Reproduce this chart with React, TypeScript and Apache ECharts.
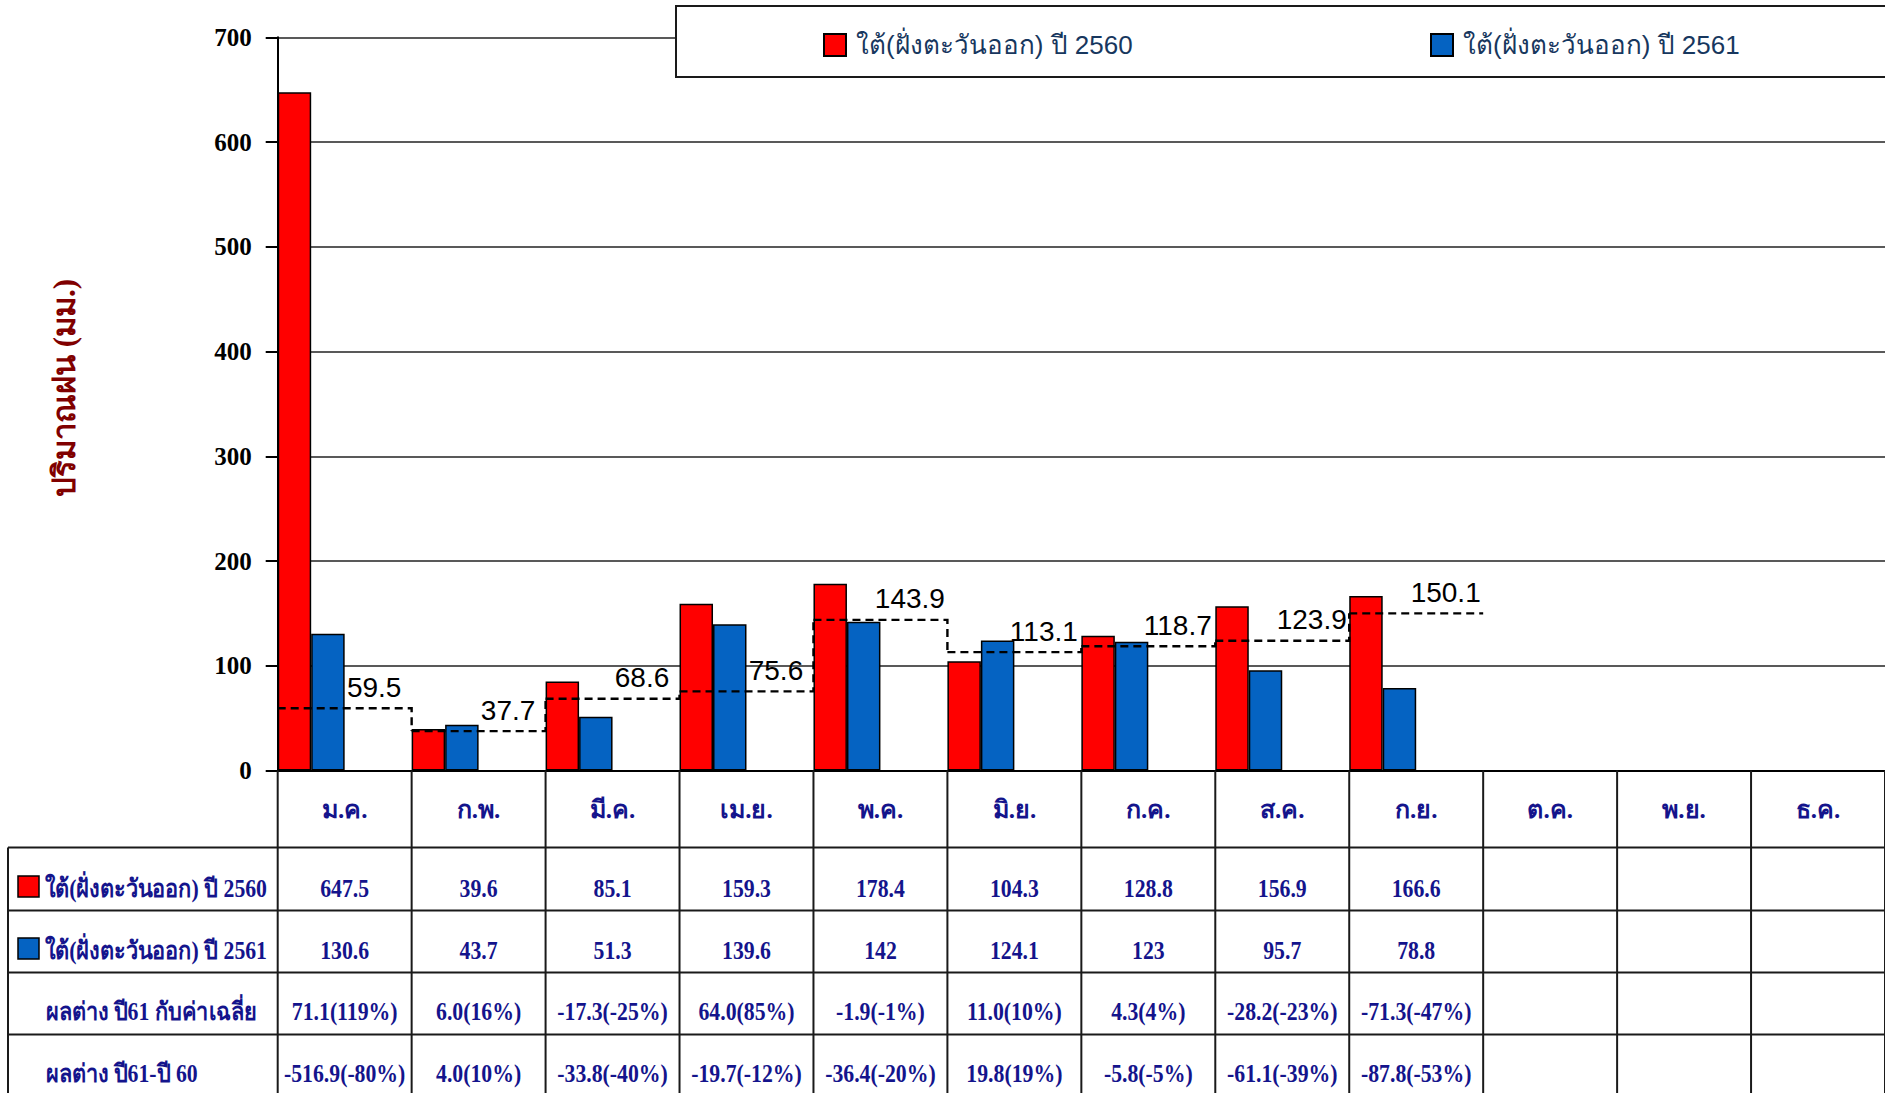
import React, { useEffect, useRef } from 'react';
import * as echarts from 'echarts';

const months = ['ม.ค.', 'ก.พ.', 'มี.ค.', 'เม.ย.', 'พ.ค.', 'มิ.ย.', 'ก.ค.', 'ส.ค.', 'ก.ย.', 'ต.ค.', 'พ.ย.', 'ธ.ค.'];
const seriesNames = ['ใต้(ฝั่งตะวันออก) ปี 2560', 'ใต้(ฝั่งตะวันออก) ปี 2561'];
const rain2560 = [647.5, 39.6, 85.1, 159.3, 178.4, 104.3, 128.8, 156.9, 166.6];
const rain2561 = [130.6, 43.7, 51.3, 139.6, 142, 124.1, 123, 95.7, 78.8];
const averageValues = [59.5, 37.7, 68.6, 75.6, 143.9, 113.1, 118.7, 123.9, 150.1];
const diffAverageLabels = ['71.1(119%)', '6.0(16%)', '-17.3(-25%)', '64.0(85%)', '-1.9(-1%)', '11.0(10%)', '4.3(4%)', '-28.2(-23%)', '-71.3(-47%)'];
const diffYearLabels = ['-516.9(-80%)', '4.0(10%)', '-33.8(-40%)', '-19.7(-12%)', '-36.4(-20%)', '19.8(19%)', '-5.8(-5%)', '-61.1(-39%)', '-87.8(-53%)'];
const rowLabels = ['ใต้(ฝั่งตะวันออก) ปี 2560', 'ใต้(ฝั่งตะวันออก) ปี 2561', 'ผลต่าง ปี61 กับค่าเฉลี่ย', 'ผลต่าง ปี61-ปี 60'];
const yAxisName = 'ปริมาณฝน (มม.)';

const RED = '#FF0000';
const BLUE = '#0563C2';
const NAVY = '#14148C';
const LINE = '#1a1a1a';
const SERIF = '"Liberation Serif", "Times New Roman", serif';

export default function App() {
  const ref = useRef<HTMLDivElement>(null);
  useEffect(() => {
    const el = ref.current!;
    const chart = echarts.init(el, null, { renderer: 'svg', width: 1885, height: 1093 });
    const placeholder = months.map(() => '-');
    chart.setOption({
      animation: false,
      backgroundColor: '#fff',
      grid: { left: 277.7, right: 0, top: 37.3, bottom: 322.4, containLabel: false, outerBoundsMode: 'none' },
      legend: [
        {
          data: [seriesNames[0]], left: 823, top: 32, padding: 0, itemWidth: 22, itemHeight: 22, icon: 'rect', z: 6,
          textStyle: { color: '#17375E', fontSize: 26, fontFamily: '"Liberation Sans Narrow", "Liberation Sans", Arial, sans-serif', padding: [0, 0, 0, 5] },
        },
        {
          data: [seriesNames[1]], left: 1430, top: 32, padding: 0, itemWidth: 22, itemHeight: 22, icon: 'rect', z: 6,
          textStyle: { color: '#17375E', fontSize: 26, fontFamily: '"Liberation Sans Narrow", "Liberation Sans", Arial, sans-serif', padding: [0, 0, 0, 5] },
        },
      ],
      xAxis: {
        type: 'category',
        data: months,
        axisLine: { lineStyle: { color: '#000', width: 2 } },
        axisTick: { show: false },
        axisLabel: { interval: 0, margin: 24, lineHeight: 30, color: NAVY, fontSize: 25, fontWeight: 'bold', fontFamily: SERIF },
      },
      yAxis: {
        type: 'value', min: 0, max: 700, interval: 100,
        name: yAxisName, nameLocation: 'middle', nameGap: 198,
        nameTextStyle: { color: '#800000', fontSize: 31, fontWeight: 'bold', fontFamily: SERIF, padding: [0, 0, 0, 32] },
        axisLine: { show: true, lineStyle: { color: '#000', width: 2 } },
        axisTick: { show: true, length: 12, lineStyle: { color: '#000', width: 2 } },
        axisLabel: { margin: 26, color: '#000', fontSize: 25, fontWeight: 'bold', fontFamily: SERIF },
        splitLine: { lineStyle: { color: '#222', width: 1.5 } },
      },
      series: [
        { name: seriesNames[0], type: 'bar', data: rain2560, barGap: '0%', barCategoryGap: '0%', itemStyle: { color: RED, borderColor: '#000', borderWidth: 1.5 } },
        { name: seriesNames[1], type: 'bar', data: rain2561, barGap: '0%', barCategoryGap: '0%', itemStyle: { color: BLUE, borderColor: '#000', borderWidth: 1.5 } },
        { name: 'pad1', type: 'bar', data: placeholder, barGap: '0%', barCategoryGap: '0%' },
        { name: 'pad2', type: 'bar', data: placeholder, barGap: '0%', barCategoryGap: '0%' },
        {
          name: 'ค่าเฉลี่ย', type: 'custom', z: 5,
          data: averageValues.map((v, i) => [i, v]),
          encode: { x: 0, y: 1 },
          renderItem: (params: any, api: any) => {
            const i = params.dataIndex;
            const v = api.value(1);
            const pt = api.coord([i, v]);
            const w = api.size([1, 0])[0];
            const x0 = pt[0] - w / 2;
            const x1 = pt[0] + w / 2;
            const points: number[][] = [[x0, pt[1]], [x1, pt[1]]];
            if (i + 1 < averageValues.length) {
              const nxt = api.coord([i + 1, averageValues[i + 1]]);
              points.push([x1, nxt[1]]);
            }
            return {
              type: 'group',
              children: [
                { type: 'polyline', shape: { points }, style: { stroke: '#000', lineWidth: 2.4, lineDash: [8, 5], fill: null } },
                {
                  type: 'text', x: x0 + w * 0.72, y: pt[1] - 7,
                  style: { text: v.toFixed(1), fill: '#000', align: 'center', verticalAlign: 'bottom', font: '28px "Liberation Sans", Arial, sans-serif' },
                },
              ],
            };
          },
        },
      ],
    });

    const centers = months.map((_, i) => chart.convertToPixel({ xAxisIndex: 0 }, i) as number);
    const band = centers[1] - centers[0];
    const y0 = chart.convertToPixel({ yAxisIndex: 0 }, 0) as number;
    const rowTops = [0, 77, 140, 202, 264].map((d) => y0 + d);
    const textYs = [117.4, 179.4, 241.1, 302.9].map((d) => y0 + d);
    const tableLeft = 8;
    const tableRight = 1885;
    const bottom = 1093;
    const g: any[] = [];
    g.push({ type: 'rect', z: 3, shape: { x: 676, y: 6, width: 1300, height: 71 }, style: { fill: '#fff', stroke: LINE, lineWidth: 2 } });
    for (let i = 0; i <= months.length; i++) {
      const x = centers[0] - band / 2 + i * band;
      g.push({ type: 'line', z: 3, shape: { x1: x, y1: y0, x2: x, y2: bottom }, style: { stroke: LINE, lineWidth: 2 } });
    }
    g.push({ type: 'line', z: 3, shape: { x1: tableLeft, y1: rowTops[1], x2: tableLeft, y2: bottom }, style: { stroke: LINE, lineWidth: 2 } });
    for (let r = 1; r < rowTops.length; r++) {
      g.push({ type: 'line', z: 3, shape: { x1: tableLeft, y1: rowTops[r], x2: tableRight, y2: rowTops[r] }, style: { stroke: LINE, lineWidth: 2 } });
    }
    const rows = [rain2560.map(String), rain2561.map(String), diffAverageLabels, diffYearLabels];
    rows.forEach((row, r) => {
      row.forEach((t, i) => {
        g.push({
          type: 'text', z: 4, x: centers[i], y: textYs[r], scaleX: 0.87,
          style: { text: t, fill: NAVY, align: 'center', verticalAlign: 'middle', font: 'bold 25px ' + SERIF },
        });
      });
      const hasSwatch = r < 2;
      if (hasSwatch) {
        g.push({ type: 'rect', z: 4, shape: { x: 18, y: textYs[r] - 12, width: 21, height: 21 }, style: { fill: r === 0 ? RED : BLUE, stroke: '#000', lineWidth: 1.5 } });
      }
      g.push({
        type: 'text', z: 4, x: hasSwatch ? 45 : 46, y: textYs[r], scaleX: 0.87,
        style: { text: rowLabels[r], fill: NAVY, align: 'left', verticalAlign: 'middle', font: 'bold 25px ' + SERIF },
      });
    });
    chart.setOption({ graphic: g });
    return () => chart.dispose();
  }, []);
  return <div ref={ref} style={{ position: 'fixed', left: 0, top: 0, width: 1885, height: 1093, background: '#fff' }} />;
}
